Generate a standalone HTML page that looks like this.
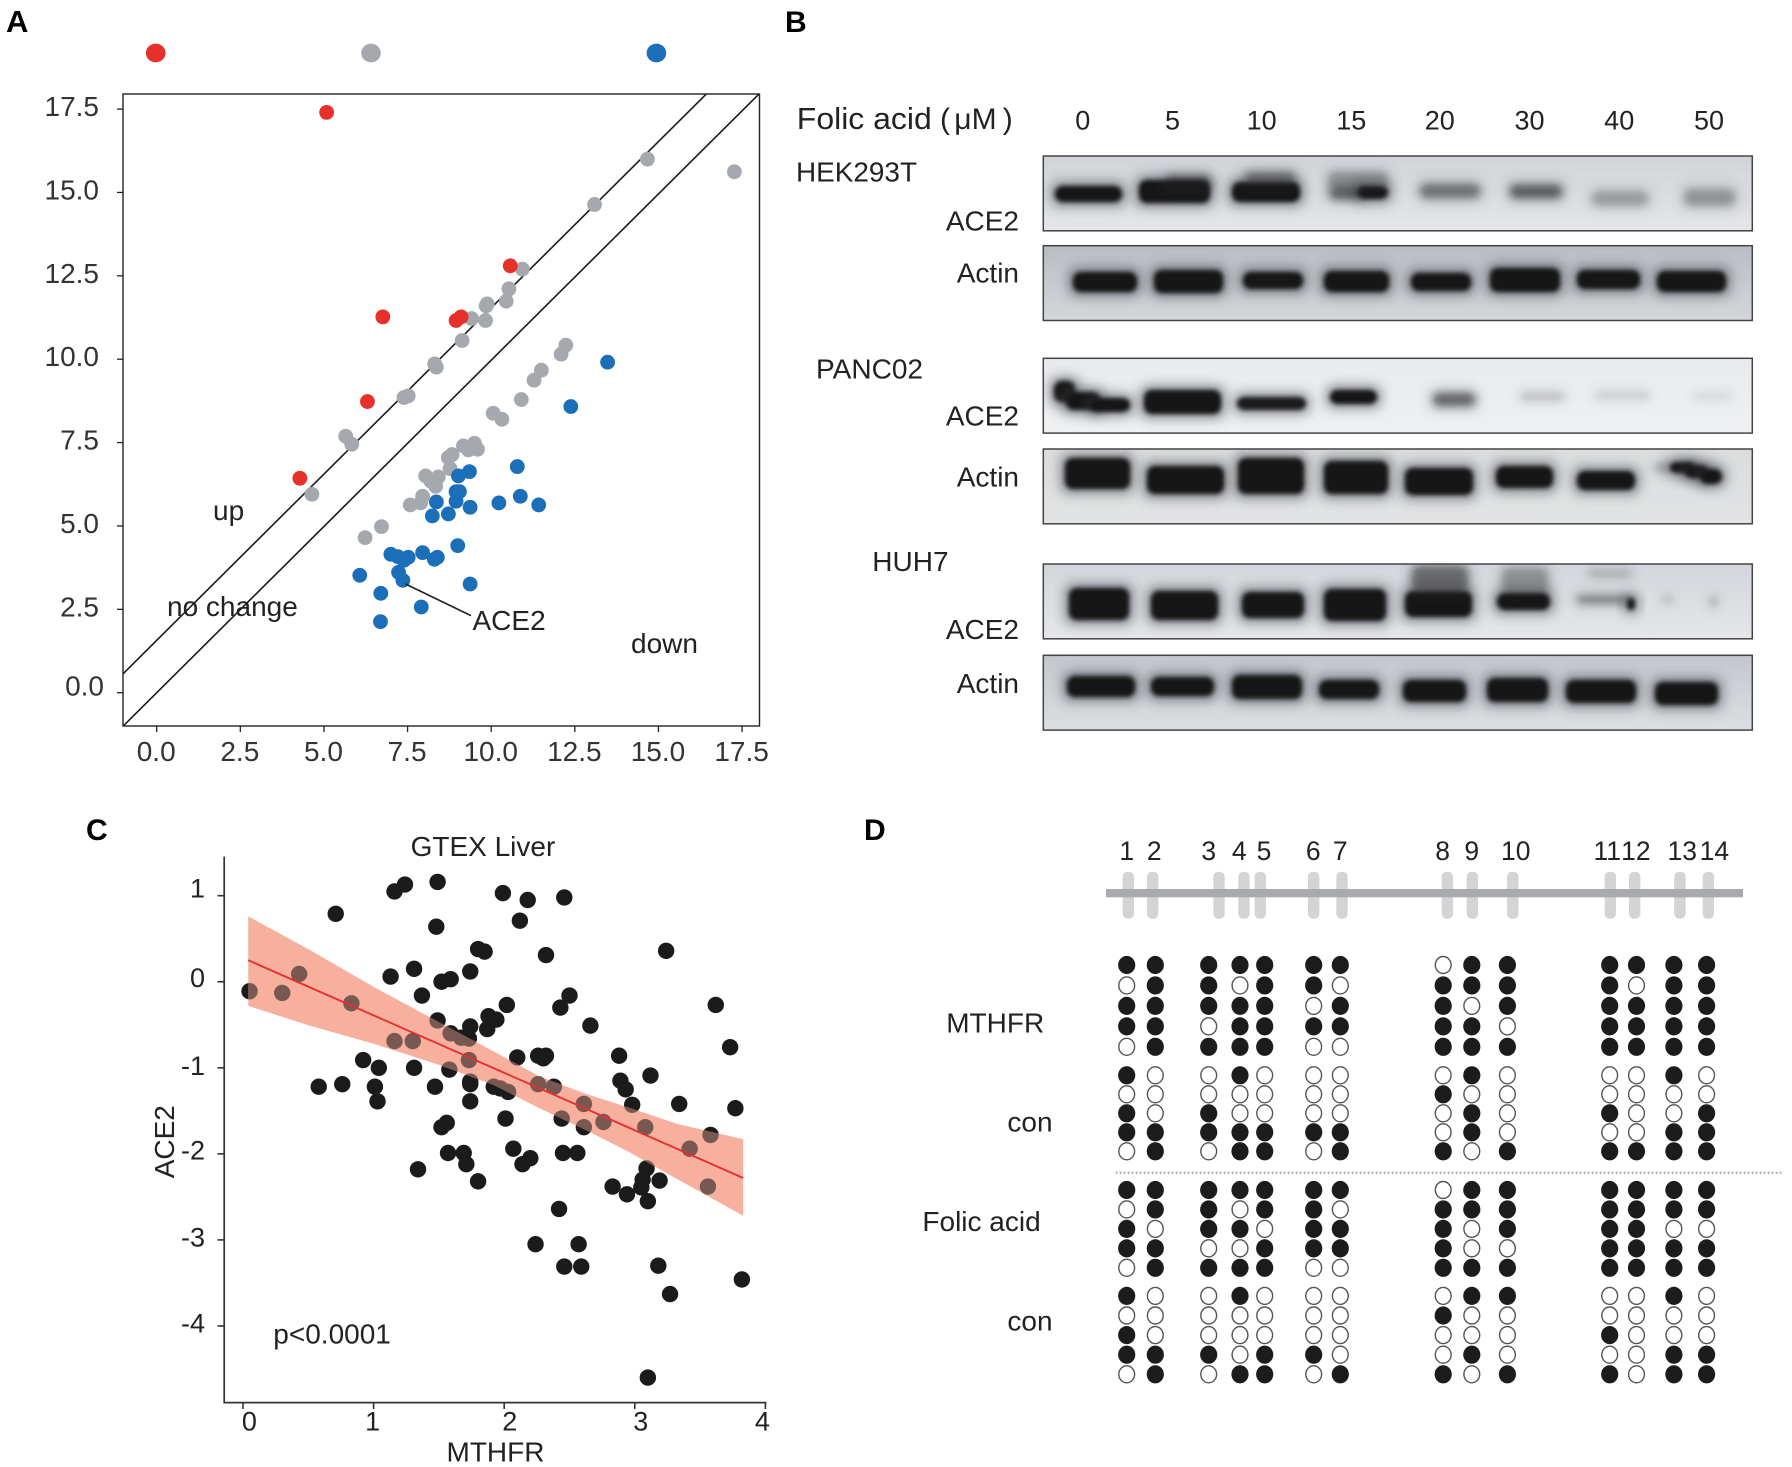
<!DOCTYPE html>
<html lang="en">
<head>
<meta charset="utf-8">
<title>Folic acid, MTHFR and ACE2 figure</title>
<style>
html,body{margin:0;padding:0;background:#fff;width:1792px;height:1467px;overflow:hidden}
svg{display:block}
text{font-family:"Liberation Sans",Arial,sans-serif;fill:#222}
.lbl{font-size:28px}
.tick{font-size:28px;fill:#333}
.letter{font-size:30px;font-weight:bold;fill:#000}
</style>
</head>
<body>
<svg id="fig" xmlns="http://www.w3.org/2000/svg" width="1792" height="1467" viewBox="0 0 1792 1467">
<defs>
<filter id="bCore" x="-30%" y="-80%" width="160%" height="260%"><feGaussianBlur stdDeviation="2.1"/></filter>
<filter id="bSoft" x="-40%" y="-120%" width="180%" height="340%"><feGaussianBlur stdDeviation="3.6"/></filter>
<filter id="bHalo" x="-40%" y="-120%" width="180%" height="340%"><feGaussianBlur stdDeviation="6"/></filter>
<clipPath id="clipA"><rect x="123" y="94" width="636.5" height="632"/></clipPath>
</defs>

<text class="letter" x="6" y="32" font-size="31" style="font-size:31px">A</text>
<text class="letter" x="785" y="32">B</text>
<text class="letter" x="86" y="840">C</text>
<text class="letter" x="864" y="840">D</text>

<g id="panelA"></g>
<text class="lbl" x="213" y="520">up</text>
<text class="lbl" x="167" y="616">no change</text>
<text class="lbl" x="631" y="653">down</text>
<line x1="405.5" y1="584" x2="471" y2="615.6" stroke="#222" stroke-width="1.6"/>
<text class="lbl" x="472.5" y="630">ACE2</text>

<g id="panelB"></g>
<text x="796.8" y="129" font-size="31" textLength="135" lengthAdjust="spacingAndGlyphs">Folic acid</text>
<text x="940" y="129" font-size="30">(</text>
<text x="954.3" y="129" font-size="30">μM</text>
<text x="1002.7" y="129" font-size="30">)</text>
<text class="lbl" x="796" y="181.5" textLength="121" lengthAdjust="spacingAndGlyphs">HEK293T</text>
<text class="lbl" x="816" y="378.5" textLength="107" lengthAdjust="spacingAndGlyphs">PANC02</text>
<text class="lbl" x="872.3" y="571">HUH7</text>
<text class="lbl" x="1019" y="230.5" text-anchor="end">ACE2</text>
<text class="lbl" x="1019" y="282.6" text-anchor="end">Actin</text>
<text class="lbl" x="1019" y="425.6" text-anchor="end">ACE2</text>
<text class="lbl" x="1019" y="486.5" text-anchor="end">Actin</text>
<text class="lbl" x="1019" y="639" text-anchor="end">ACE2</text>
<text class="lbl" x="1019" y="693" text-anchor="end">Actin</text>

<g id="panelC"></g>
<text class="lbl" x="410.6" y="856">GTEX Liver</text>
<text class="lbl" x="0" y="0" text-anchor="middle" transform="translate(174 1141.7) rotate(-90)">ACE2</text>
<text class="lbl" x="495.5" y="1461.7" text-anchor="middle">MTHFR</text>
<text class="lbl" x="273.3" y="1343.4">p&lt;0.0001</text>

<g id="panelD"></g>
<text class="lbl" x="946.2" y="1032.7">MTHFR</text>
<text class="lbl" x="1007.4" y="1131.7">con</text>
<text class="lbl" x="922.4" y="1231">Folic acid</text>
<text class="lbl" x="1007.4" y="1330.7">con</text>
<line x1="1115.6" y1="1172.7" x2="1783" y2="1172.7" stroke="#a9abad" stroke-width="2" stroke-dasharray="2 2"/>
</svg>

<script>
/* ---------- Panel A data ---------- */
const aTicks = [0, 2.5, 5, 7.5, 10, 12.5, 15, 17.5];
const thresholdOffsets = [1.57, 0];
const thresholdSlope = 0.997;
const legendLevels = ['#e8302a', '#a5a9ae', '#1a6fb8'];
const upX = [5.08, 10.57, 6.76, 8.95, 9.1, 6.3, 4.28];
const upY = [17.4, 12.8, 11.27, 11.16, 11.27, 8.73, 6.43];
const grayX = [14.67, 17.27, 13.09, 10.93, 10.53, 10.45, 9.88, 9.85, 9.83, 9.41, 9.13, 8.31, 8.36, 7.52, 7.39, 5.65, 5.83, 4.64, 12.23, 12.09, 11.5, 11.28, 10.9, 10.06, 10.32, 9.5, 9.59, 9.17, 9.32, 8.83, 8.72, 8.77, 8.04, 8.42, 8.2, 8.34, 7.95, 7.89, 7.58, 6.72, 6.23];
const grayY = [16.0, 15.62, 14.64, 12.7, 12.11, 11.74, 11.66, 11.6, 11.16, 11.22, 10.56, 9.86, 9.76, 8.9, 8.85, 7.69, 7.45, 5.95, 10.42, 10.15, 9.67, 9.37, 8.79, 8.38, 8.2, 7.48, 7.3, 7.4, 7.28, 7.14, 7.05, 6.72, 6.5, 6.47, 6.34, 6.19, 5.89, 5.69, 5.63, 4.98, 4.65];
const downX = [13.48, 12.38, 10.78, 9.35, 9.02, 8.95, 9.05, 8.95, 8.36, 9.37, 10.23, 10.87, 11.42, 8.24, 8.72, 9.0, 7.0, 7.21, 7.39, 7.52, 7.95, 8.3, 8.39, 6.07, 7.23, 7.36, 6.7, 9.37, 7.91, 6.69];
const downY = [9.91, 8.58, 6.78, 6.63, 6.5, 6.03, 6.03, 5.74, 5.72, 5.56, 5.69, 5.89, 5.63, 5.3, 5.36, 4.41, 4.15, 4.08, 3.97, 4.06, 4.2, 4.0, 4.06, 3.52, 3.61, 3.37, 2.98, 3.26, 2.57, 2.13];

/* ---------- Panel B data: dose labels and band list (edges, intensity) ---------- */
const doseLabels = ['0', '5', '10', '15', '20', '30', '40', '50'];
const hekAce = [[1055,1122,186,202,1],[1139,1210,180,203,1],[1165,1210,176,190,.4],[1232,1300,182,202,1],[1245,1295,172,184,.4],[1357,1388,186,199,1],[1330,1362,188,199,.5],[1328,1388,172,190,.28],[1420,1480,184,198,.42],[1510,1562,185,198,.52],[1592,1648,191,206,.24],[1684,1735,189,206,.27]];
const hekActin = [[1073,1137,272,292,1],[1154,1223,270,293,1],[1243,1303,272,289,1],[1324,1389,271,292,1],[1411,1471,273,291,1],[1490,1560,268,292,1],[1577,1640,270,289,1],[1657,1726,271,292,1]];
const pancAce = [[1054,1075,381,402,1],[1066,1100,392,410,1],[1090,1130,398,412,1],[1144,1221,390,414,1],[1237,1306,397,410,.95],[1330,1377,390,404,1],[1433,1475,393,406,.5],[1520,1565,392,401,.14],[1595,1650,391,400,.09],[1693,1733,393,400,.06]];
const pancActin = [[1065,1130,458,489,1],[1147,1224,466,494,1],[1238,1304,458,494,1],[1324,1388,461,494,1],[1405,1473,468,495,1],[1496,1553,466,488,1],[1577,1635,471,490,1],[1670,1695,462,473,1],[1685,1708,465,478,1],[1700,1722,469,484,1],[1655,1672,465,470,.3]];
const huhAce = [[1069,1129,588,620,1],[1151,1218,591,620,1],[1242,1304,592,618,1],[1324,1386,589,621,1],[1405,1472,591,617,1],[1412,1468,566,592,.45],[1497,1550,593,610,1],[1502,1548,568,594,.28],[1577,1632,596,603,.38],[1627,1635,598,610,1],[1588,1632,569,578,.14],[1663,1672,596,603,.14],[1710,1717,598,605,.22]];
const huhActin = [[1067,1135,676,697,1],[1151,1214,677,696,1],[1232,1302,675,699,1],[1319,1379,680,699,1],[1403,1466,680,702,1],[1487,1548,678,702,1],[1566,1636,680,703,1],[1655,1718,682,705,1]];
const blotTops = [156, 245.7, 358.3, 449, 564, 655.3];
const blotShades = [['#d0d3d7','#e4e6e9'],['#b9bdc2','#d4d7da'],['#e8eaed','#eef0f2'],['#dadcdd','#e2e3e4'],['#d3d6da','#e4e6ea'],['#c3c7cc','#dcdfe2']];
const blotBands = [hekAce, hekActin, pancAce, pancActin, huhAce, huhActin];
const blotNames = ['hek-ace2-blot', 'hek-actin-blot', 'panc-ace2-blot', 'panc-actin-blot', 'huh-ace2-blot', 'huh-actin-blot'];

/* ---------- Panel C data ---------- */
const cXTicks = [0, 1, 2, 3, 4];
const cYTicks = [1, 0, -1, -2, -3, -4];
const mthfrValues = [.05,.30,.43,.83,.71,.58,.76,.92,1.04,1.01,1.03,1.16,1.24,1.49,1.48,1.13,1.31,1.37,1.52,1.59,1.74,1.80,1.85,1.99,2.18,2.12,2.46,2.32,3.24,3.62,3.73,2.50,2.43,2.02,2.66,1.88,1.94,1.87,1.49,1.74,1.59,1.16,1.30,1.67,1.73,1.73,2.10,2.26,2.32,2.30,1.31,1.58,1.47,1.74,1.74,1.92,1.97,2.03,2.26,2.38,1.74,2.61,2.88,2.89,2.93,3.12,2.98,3.34,3.77,2.01,2.44,2.61,2.76,3.08,3.58,3.42,1.52,1.56,1.57,1.69,1.71,1.34,1.80,2.07,2.14,2.20,2.45,2.56,3.09,3.06,3.05,3.19,2.83,2.94,3.10,3.56,2.42,2.24,2.57,2.46,2.59,3.18,3.82,3.27,3.10];
const ace2Values = [-.11,-.13,.09,-.25,.79,-1.22,-1.19,-.91,-1.00,-1.22,-1.39,1.05,1.13,1.16,.64,.06,.15,-.16,0,.03,.12,.38,.35,1.03,.95,.71,.98,.31,.36,-.27,-.76,-.16,-.30,-.27,-.51,-.40,-.44,-.55,-.45,-.52,-.60,-.69,-.69,-.65,-.66,-.91,-.88,-.86,-.86,-.89,-1.00,-1.02,-1.22,-1.16,-1.19,-1.22,-1.24,-1.28,-1.19,-1.22,-1.39,-1.42,-.86,-1.15,-1.25,-1.09,-1.43,-1.42,-1.47,-1.59,-1.59,-1.69,-1.63,-1.69,-1.78,-1.94,-1.69,-1.64,-1.99,-1.99,-2.12,-2.18,-2.32,-1.94,-2.12,-2.05,-1.99,-1.99,-2.17,-2.30,-2.39,-2.31,-2.38,-2.47,-2.55,-2.38,-2.64,-3.05,-3.05,-3.31,-3.31,-3.30,-3.46,-3.63,-4.60];
const fitX = [.04, 3.83];
const fitY = [.25, -2.28];
const ciX = [.04, .51, 1.0, 1.49, 1.92, 2.27, 2.62, 2.97, 3.32, 3.83];
const ciUpper = [.76, .37, -.06, -.46, -.81, -1.10, -1.30, -1.47, -1.65, -1.83];
const ciLower = [-.28, -.51, -.72, -.96, -1.20, -1.47, -1.72, -1.99, -2.29, -2.72];

/* ---------- Panel D data ---------- */
const cpgLabels = ['1','2','3','4','5','6','7','8','9','10','11','12','13','14'];
const mthfrTreated = ['11111110111111','01101101111011','11111011011111','11011111101111','01111001111111'];
const mthfrControl = ['10010000100010','00000001000000','10100000101001','11111110100011','01011011011111'];
const folicTreated = ['11111110111111','01101101111111','10110111011100','11001111001111','01111001111111'];
const folicControl = ['10010000110010','00000001000000','10000000001000','11101100100011','01011011011011'];

const SVGNS = 'http://www.w3.org/2000/svg';
function add(parent, tag, attrs, txt) {
  const el = document.createElementNS(SVGNS, tag);
  for (const k in attrs) el.setAttribute(k, attrs[k]);
  if (txt !== undefined) el.textContent = txt;
  parent.appendChild(el);
  return el;
}
const fig = document.getElementById('fig');
const defs = fig.querySelector('defs');

/* ---------- Panel A ---------- */
(function () {
  const g = document.getElementById('panelA');
  const xA = v => 156.7 + 33.45 * v;
  const yA = v => 692.7 - 33.35 * v;
  const clip = add(g, 'g', { 'clip-path': 'url(#clipA)' });
  
  
  thresholdOffsets.forEach(off => {
    const ln = add(clip, 'line', { x1: xA(-2), y1: yA(-2 * thresholdSlope + off), x2: xA(19), y2: yA(19 * thresholdSlope + off), stroke: '#1a1a1a', 'stroke-width': 1.6 });
    
    
  });
  const frame = add(g, 'rect', { x: 123, y: 94, width: 636.5, height: 632, fill: 'none', stroke: '#222', 'stroke-width': 1.4 });
  
  
  aTicks.forEach(t => {
    const tx = add(g, 'line', { x1: xA(t), x2: xA(t), y1: 726, y2: 732, stroke: '#222', 'stroke-width': 1.3 });
    
    
    const ty = add(g, 'line', { x1: 117, x2: 123, y1: yA(t), y2: yA(t), stroke: '#222', 'stroke-width': 1.3 });
    
    
    const lx = add(g, 'text', { class: 'tick', x: xA(t) - 0.5, y: 761, 'text-anchor': 'middle' }, t.toFixed(1));
    
    
    const ly = add(g, 'text', { class: 'tick', x: t === 0 ? 104 : 99, y: yA(t) + (t === 0 ? 3 : 7), 'text-anchor': 'end' }, t.toFixed(1));
    
    
  });
  grayX.forEach((x, i) => {
    const c = add(g, 'circle', { cx: xA(x), cy: yA(grayY[i]), r: 7.4, fill: legendLevels[1] });
    
    
  });
  upX.forEach((x, i) => {
    const c = add(g, 'circle', { cx: xA(x), cy: yA(upY[i]), r: 7.4, fill: legendLevels[0] });
    
    
  });
  downX.forEach((x, i) => {
    const c = add(g, 'circle', { cx: xA(x), cy: yA(downY[i]), r: 7.4, fill: legendLevels[2] });
    
    
  });
  const legendNames = ['legend-up-dot', 'legend-no-change-dot', 'legend-down-dot'];
  [155.7, 371, 656.4].forEach((cx, i) => {
    const c = add(g, 'ellipse', { cx: cx, cy: 53, rx: 9.8, ry: 9.4, fill: legendLevels[i] });
    
    
  });
})();

/* ---------- Panel B ---------- */
(function () {
  const g = document.getElementById('panelB');
  const laneX = [1082.8, 1172.5, 1261.6, 1351.3, 1439.8, 1529.5, 1619.2, 1709];
  doseLabels.forEach((d, i) => {
    const t = add(g, 'text', { x: laneX[i], y: 129.5, 'text-anchor': 'middle', 'font-size': 27 }, d);
    
    
  });
  const L = 1043.3, W = 709, H = 74.8;
  blotTops.forEach((top, i) => {
    const grad = add(defs, 'linearGradient', { id: 'bg' + i, x1: 0, y1: 0, x2: 0, y2: 1 });
    add(grad, 'stop', { offset: '0', 'stop-color': blotShades[i][0] });
    add(grad, 'stop', { offset: '1', 'stop-color': blotShades[i][1] });
    const cp = add(defs, 'clipPath', { id: 'blotClip' + i });
    add(cp, 'rect', { x: L, y: top, width: W, height: H });
    const blot = add(g, 'g', { 'clip-path': 'url(#blotClip' + i + ')' });
    
    
    add(blot, 'rect', { x: L, y: top, width: W, height: H, fill: 'url(#bg' + i + ')' });
    blotBands[i].forEach(b => {
      const faint = b[4] < 0.7;
      const halo = add(blot, 'rect', { x: b[0] - 4, y: b[2] - 4, width: b[1] - b[0] + 8, height: b[3] - b[2] + 8, rx: 8, fill: '#3a3e44', opacity: b[4] * .6, filter: 'url(#bHalo)' });
      
      
      const core = add(blot, 'rect', { x: b[0], y: b[2], width: b[1] - b[0], height: b[3] - b[2], rx: 8, fill: '#151515', opacity: b[4], filter: faint ? 'url(#bSoft)' : 'url(#bCore)' });
      
      
    });
    const fr = add(g, 'rect', { x: L, y: top, width: W, height: H, fill: 'none', stroke: '#444', 'stroke-width': 1.5 });
    
    
  });
})();

/* ---------- Panel C ---------- */
(function () {
  const g = document.getElementById('panelC');
  const xC = v => 243 + 130.6 * v;
  const yC = v => 981.75 - 86.05 * v;
  mthfrValues.forEach((x, i) => {
    const c = add(g, 'circle', { cx: xC(x), cy: yC(ace2Values[i]), r: 8.2, fill: '#1b1b1b' });
    
    
  });
  const upper = ciX.map((x, i) => xC(x) + ',' + yC(ciUpper[i]));
  const lower = ciX.map((x, i) => xC(x) + ',' + yC(ciLower[i])).reverse();
  const bandPoints = upper.concat(lower).join(' ');
  const band = add(g, 'polygon', { points: bandPoints, fill: '#f8b09e' });
  
  
  const cp = add(defs, 'clipPath', { id: 'ciClip' });
  add(cp, 'polygon', { points: bandPoints });
  const ghost = add(g, 'g', { 'clip-path': 'url(#ciClip)', opacity: .58 });
  
  
  mthfrValues.forEach((x, i) => {
    const c = add(ghost, 'circle', { cx: xC(x), cy: yC(ace2Values[i]), r: 8.2, fill: '#1b1b1b' });
    
    
  });
  const fit = add(g, 'line', { x1: xC(fitX[0]), y1: yC(fitY[0]), x2: xC(fitX[1]), y2: yC(fitY[1]), stroke: '#e53030', 'stroke-width': 1.9 });
  
  
  const axis = add(g, 'path', { d: 'M224.2 856.6V1402.6H766.4', fill: 'none', stroke: '#333', 'stroke-width': 1.7 });
  
  
  cXTicks.forEach((t, i) => {
    const m = add(g, 'line', { x1: xC(t), x2: xC(t), y1: 1402.6, y2: 1409, stroke: '#333', 'stroke-width': 1.6 });
    
    
    const l = add(g, 'text', { x: xC(t) + [6.4, -1, 5.6, 6, -3][i], y: 1430.6, 'text-anchor': 'middle', 'font-size': 27, fill: '#333' }, t);
    
    
  });
  cYTicks.forEach((t, i) => {
    const m = add(g, 'line', { x1: 217.5, x2: 224.2, y1: yC(t), y2: yC(t), stroke: '#333', 'stroke-width': 1.6 });
    
    
    const l = add(g, 'text', { x: 205, y: 897.5 + (1 - t) * 87 + [0, 2.3, 3.4, 1.1, 1.1, 0][i], 'text-anchor': 'end', 'font-size': 27, fill: '#333' }, t);
    
    
  });
})();

/* ---------- Panel D ---------- */
(function () {
  const g = document.getElementById('panelD');
  const rodX = [1128.3, 1152.7, 1219, 1244, 1260.3, 1313.7, 1342, 1447.4, 1472.4, 1512.8, 1610.3, 1634.7, 1679.9, 1708.4];
  const numX = [1126.7, 1154.3, 1208.7, 1239.3, 1264, 1313.3, 1340.3, 1442.6, 1471.8, 1515.8, 1607.3, 1635.9, 1682.2, 1714.4];
  const colX = [1126.7, 1155.3, 1208.7, 1240, 1264.7, 1313.7, 1340.3, 1443.2, 1471.8, 1507.4, 1609.7, 1636.5, 1673.9, 1706.6];
  cpgLabels.forEach((n, i) => {
    const t = add(g, 'text', { x: numX[i], y: 860, 'text-anchor': 'middle', 'font-size': 26.5 }, n);
    
    
    const r = add(g, 'rect', { x: rodX[i] - 5.7, y: 871.7, width: 11.4, height: 47, rx: 5, fill: '#d2d4d6' });
    
    
  });
  const bar = add(g, 'rect', { x: 1106, y: 889, width: 637, height: 8.3, fill: '#a8aaad' });
  
  
  function drawBlock(rows, firstY, step, name) {
    rows.forEach((row, r) => {
      row.split('').forEach((v, c) => {
        const filled = v === '1';
        const e = add(g, 'ellipse', { cx: colX[c], cy: firstY + r * step, rx: filled ? 8.6 : 7.9, ry: filled ? 9.1 : 8.5, fill: filled ? '#1c1c1c' : '#fff', stroke: filled ? 'none' : '#555', 'stroke-width': 1.4 });
        
        
      });
    });
  }
  drawBlock(mthfrTreated, 965, 20.45, 'mthfr-methylation-site');
  drawBlock(mthfrControl, 1075.3, 19, 'mthfr-control-methylation-site');
  drawBlock(folicTreated, 1190, 19.45, 'folic-methylation-site');
  drawBlock(folicControl, 1295.9, 19.6, 'folic-control-methylation-site');
})();
</script>
</body>
</html>
